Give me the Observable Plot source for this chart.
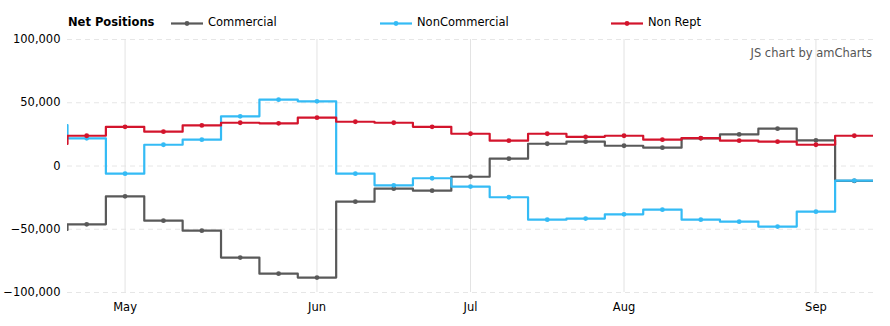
<!DOCTYPE html>
<html><head><meta charset="utf-8">
<script src="https://cdn.jsdelivr.net/npm/d3@7"></script>
<script src="https://cdn.jsdelivr.net/npm/@observablehq/plot@0.6"></script>
<style>
body{margin:0;background:#fff;font-family:"DejaVu Sans",Verdana,sans-serif;}
#wrap{position:relative;width:890px;height:326px;overflow:hidden}
#chart{position:absolute;left:0;top:0}
#legend{position:absolute;left:0;top:0;width:890px;height:40px;font-size:11.5px;color:#000}
.lt{position:absolute;top:15px;line-height:14px;white-space:nowrap}
.lm{position:absolute;top:17px;}
#credit{position:absolute;right:18px;top:46px;font-size:11.5px;line-height:14px;color:#555}
</style></head><body>
<div id="wrap"><div id="chart"></div><div id="legend"></div><div id="credit">JS chart by amCharts</div></div>
<script>
// Weekly report dates (first one lies just before the visible range)
const dates = ["2017-04-18","2017-04-25","2017-05-02","2017-05-09","2017-05-16","2017-05-23","2017-05-30",
  "2017-06-06","2017-06-13","2017-06-20","2017-06-27","2017-07-04","2017-07-11","2017-07-18","2017-07-25",
  "2017-08-01","2017-08-08","2017-08-15","2017-08-22","2017-08-29","2017-09-05","2017-09-12"];
const seriesNames = ["Commercial","NonCommercial","Non Rept"];
const seriesColors = ["#595959","#34bbf5","#d3142c"];
const commercial = [-50500,-46100,-24000,-43200,-51100,-72400,-85100,-88200,-28200,-17900,-19500,-8500,
  5800,17600,19200,16000,14500,21900,25000,29500,20300,-11800];
const nonCommercial = [32400,21900,-6100,16800,20800,39300,52400,51100,-6100,-15300,-9700,-16300,
  -24700,-42400,-41600,-38200,-34500,-42400,-44000,-47900,-36100,-11500];
const nonRept = [17400,23900,31000,27100,32100,34200,33700,38200,35000,34200,31000,25500,
  20000,25500,23100,23900,20800,22100,20000,19200,16800,23900];
const yTicks = [-100000,-50000,0,50000,100000];
const monthLabels = ["May","Jun","Jul","Aug","Sep"];
const legendTitle = "Net Positions";

const seriesValues = [commercial, nonCommercial, nonRept];
const idx = dates.map((d,i) => i - 1);
// month-start ticks: first report of each new month
const monthTicks = idx.filter((x,i) => i > 0 && dates[i].slice(5,7) !== dates[i-1].slice(5,7));

const stepRows = [], dotRows = [];
seriesNames.forEach((name,k) => {
  seriesValues[k].forEach((v,i) => {
    stepRows.push({name, x: idx[i] - 0.5, y: v});
    stepRows.push({name, x: idx[i] + 0.5, y: v});
    dotRows.push({name, x: idx[i], y: v});
  });
});

const W = 890, H = 326;
const marks = [
  Plot.ruleY(yTicks, {stroke: "#e6e6e6", strokeDasharray: "5,4"}),
  Plot.ruleX(monthTicks, {stroke: "#e3e3e3"}),
];
seriesNames.forEach(name => {
  marks.push(Plot.line(stepRows.filter(d => d.name === name), {x: "x", y: "y", stroke: "name", strokeWidth: 2.2, clip: true}));
  marks.push(Plot.dot(dotRows.filter(d => d.name === name), {x: "x", y: "y", fill: "name", r: 2.4, clip: true}));
});
marks.push(Plot.axisY({ticks: yTicks, tickFormat: d3.format(","), tickSize: 0, tickPadding: 7, label: null}));
marks.push(Plot.axisX({ticks: monthTicks, tickFormat: (d,i) => monthLabels[i], tickSize: 0, tickPadding: 10, label: null}));

const chart = Plot.plot({
  width: W, height: H,
  marginTop: 39, marginBottom: 34, marginLeft: 67, marginRight: 17,
  style: {fontFamily: "DejaVu Sans, Verdana, sans-serif", fontSize: "11.5px", color: "#000", background: "#fff"},
  x: {domain: [-0.5, 20.5]},
  y: {domain: [-100000, 100000]},
  color: {domain: seriesNames, range: seriesColors},
  marks
});
document.getElementById("chart").appendChild(chart);

// Legend
const legend = document.getElementById("legend");
const legendLayout = [{m: 171, t: 208}, {m: 380, t: 417}, {m: 611, t: 648}];
const title = document.createElement("div");
title.className = "lt"; title.style.left = "68px"; title.style.fontWeight = "bold";
title.textContent = legendTitle;
legend.appendChild(title);
seriesNames.forEach((name,k) => {
  const m = document.createElement("div");
  m.className = "lm"; m.style.left = legendLayout[k].m + "px";
  m.innerHTML = `<svg width="32" height="9"><line x1="0" x2="32" y1="4.5" y2="4.5" stroke="${seriesColors[k]}" stroke-width="2.2"/><circle cx="16" cy="4.5" r="2.4" fill="${seriesColors[k]}"/></svg>`;
  legend.appendChild(m);
  const t = document.createElement("div");
  t.className = "lt"; t.style.left = legendLayout[k].t + "px";
  t.textContent = name;
  legend.appendChild(t);
});
</script>
</body></html>
